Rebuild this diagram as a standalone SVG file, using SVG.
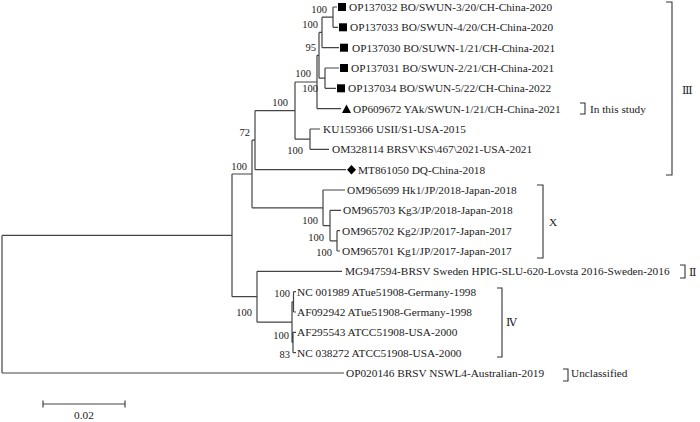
<svg xmlns="http://www.w3.org/2000/svg" width="700" height="422" viewBox="0 0 700 422">
<style>
.br{fill:none;stroke:#444;stroke-width:1.2}
.bk{fill:none;stroke:#333;stroke-width:1.1}
text{font-family:"Liberation Serif","Times New Roman",serif;fill:#1a1a1a}
.lf{font-size:11.3px}
.bs{font-size:10.5px;text-anchor:end}
.rn{font-family:"DejaVu Serif","Liberation Serif","Noto Sans CJK SC",serif;font-size:11px}
.sym{fill:#000}
</style>
<rect width="700" height="422" fill="#fff"/>
<g id="connectors" class="br">
<path d="M2,235.4V373M2,235.4H232M2,373H344"/>
<path d="M232,174V296.7M232,174H252M232,296.7H257"/>
<path d="M252,140.2V207.8M252,140.2H255M252,207.8H323"/>
<path d="M255,110.6V169.7M255,110.6H295M255,169.7H346"/>
<path d="M295,82V139.2M295,82H317M295,139.2H310"/>
<path d="M310,129V149.3M310,129H320M310,149.3H329"/>
<path d="M317,55.3V108.7M317,55.3H319M317,108.7H341"/>
<path d="M319,32.4V78.2M319,32.4H322M319,78.2H325"/>
<path d="M322,17.2V47.7M322,17.2H333M322,47.7H339"/>
<path d="M333,7V27.3M333,7H337M333,27.3H338"/>
<path d="M325,68V88.3M325,68H339M325,88.3H336"/>
<path d="M323,190V225.6M323,190H345M323,225.6H330"/>
<path d="M330,210.3V240.8M330,210.3H341M330,240.8H337"/>
<path d="M337,230.7V251M337,230.7H340M337,251H340"/>
<path d="M257,271.3V322.2M257,271.3H342M257,322.2H292"/>
<path d="M292,301.8V342.5M292,301.8H293.5M293.5,291.7V312M293.5,291.7H296M293.5,312H296M292,342.5H293M293,332.3V352.7M293,332.3H296M293,352.7H296"/>
</g>
<g id="leaf-OP137032"><rect class="sym" x="338" y="3" width="8" height="8"/><text class="lf" x="349" y="10.8">OP137032 BO/SWUN-3/20/CH-China-2020</text></g>
<g id="leaf-OP137033"><rect class="sym" x="339" y="23.3" width="8" height="8"/><text class="lf" x="350" y="31.1">OP137033 BO/SWUN-4/20/CH-China-2020</text></g>
<g id="leaf-OP137030"><rect class="sym" x="340" y="43.7" width="8" height="8"/><text class="lf" x="352" y="51.5">OP137030 BO/SUWN-1/21/CH-China-2021</text></g>
<g id="leaf-OP137031"><rect class="sym" x="340" y="64" width="8" height="8"/><text class="lf" x="351" y="71.8">OP137031 BO/SWUN-2/21/CH-China-2021</text></g>
<g id="leaf-OP137034"><rect class="sym" x="337" y="84.3" width="8" height="8"/><text class="lf" x="348" y="92.1">OP137034 BO/SWUN-5/22/CH-China-2022</text></g>
<g id="leaf-OP609672"><polygon class="sym" points="342,113 346.5,104.5 351,113"/><text class="lf" x="353" y="112.5">OP609672 YAk/SWUN-1/21/CH-China-2021</text></g>
<g id="leaf-KU159366"><text class="lf" x="323" y="132.8">KU159366 USII/S1-USA-2015</text></g>
<g id="leaf-OM328114"><text class="lf" x="332" y="153.1">OM328114 BRSV\KS\467\2021-USA-2021</text></g>
<g id="leaf-MT861050"><polygon class="sym" points="351.5,165 356,169.7 351.5,174.4 347,169.7"/><text class="lf" x="358" y="173.5">MT861050 DQ-China-2018</text></g>
<g id="leaf-OM965699"><text class="lf" x="347" y="193.8">OM965699 Hk1/JP/2018-Japan-2018</text></g>
<g id="leaf-OM965703"><text class="lf" x="343" y="214.1">OM965703 Kg3/JP/2018-Japan-2018</text></g>
<g id="leaf-OM965702"><text class="lf" x="342" y="234.5">OM965702 Kg2/JP/2017-Japan-2017</text></g>
<g id="leaf-OM965701"><text class="lf" x="342" y="254.8">OM965701 Kg1/JP/2017-Japan-2017</text></g>
<g id="leaf-MG947594"><text class="lf" x="345" y="275.1">MG947594-BRSV Sweden HPIG-SLU-620-Lovsta 2016-Sweden-2016</text></g>
<g id="leaf-NC001989"><text class="lf" x="297" y="295.5">NC 001989 ATue51908-Germany-1998</text></g>
<g id="leaf-AF092942"><text class="lf" x="297" y="315.8">AF092942 ATue51908-Germany-1998</text></g>
<g id="leaf-AF295543"><text class="lf" x="297" y="336.1">AF295543 ATCC51908-USA-2000</text></g>
<g id="leaf-NC038272"><text class="lf" x="297" y="356.5">NC 038272 ATCC51908-USA-2000</text></g>
<g id="leaf-OP020146"><text class="lf" x="346" y="376.8">OP020146 BRSV NSWL4-Australian-2019</text></g>
<g id="bootstrap">
<text class="bs" x="327" y="13">100</text>
<text class="bs" x="318" y="28">100</text>
<text class="bs" x="316" y="51">95</text>
<text class="bs" x="311" y="77">100</text>
<text class="bs" x="318" y="92">100</text>
<text class="bs" x="288" y="106">100</text>
<text class="bs" x="303" y="154">100</text>
<text class="bs" x="250" y="136">72</text>
<text class="bs" x="247" y="170">100</text>
<text class="bs" x="318" y="224">100</text>
<text class="bs" x="324" y="241">100</text>
<text class="bs" x="332" y="256">100</text>
<text class="bs" x="252" y="316">100</text>
<text class="bs" x="290" y="297">100</text>
<text class="bs" x="289" y="339">100</text>
<text class="bs" x="290" y="358">83</text>
</g>
<g id="group-III"><path class="bk" d="M666,2H672V175H666"/><text class="rn" x="682" y="94">Ⅲ</text></g>
<g id="group-study"><path class="bk" d="M580,103H585V114H580"/><text class="lf" x="590" y="112.5">In this study</text></g>
<g id="group-X"><path class="bk" d="M537,185H543V258H537"/><text class="lf" x="549" y="226">X</text></g>
<g id="group-II"><path class="bk" d="M680,265H685V278H680"/><text class="rn" x="689" y="275.5">Ⅱ</text></g>
<g id="group-IV"><path class="bk" d="M497,288H502V357H497"/><text class="rn" x="506" y="326">Ⅳ</text></g>
<g id="group-unclassified"><path class="bk" d="M563,369H568V381H563"/><text class="lf" x="571" y="377">Unclassified</text></g>
<g id="scale-bar"><path class="br" d="M43,404H125M43,400.5V407.5M125,400.5V407.5"/><text class="lf" x="84" y="419" text-anchor="middle">0.02</text></g>
</svg>
